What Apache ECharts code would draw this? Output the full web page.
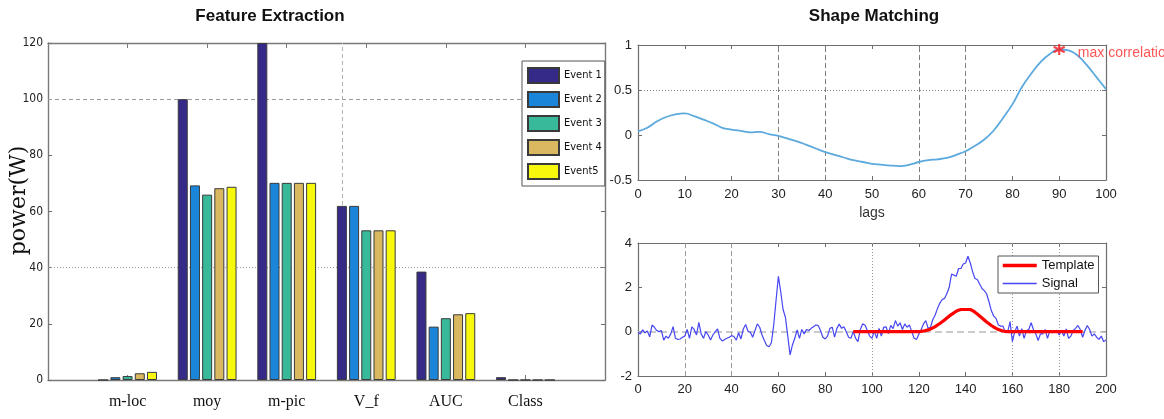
<!DOCTYPE html>
<html>
<head>
<meta charset="utf-8">
<title>Feature Extraction / Shape Matching</title>
<script src="https://cdn.jsdelivr.net/npm/echarts@6/dist/echarts.min.js"></script>
<style>
html, body { margin: 0; padding: 0; background: #fff; }
#main { width: 1164px; height: 419px; }
</style>
</head>
<body>
<div id="main"></div>
<script>
// left chart: feature values per event
var features = ['m-loc', 'moy', 'm-pic', 'V_f', 'AUC', 'Class']
var eventNames = ['Event 1', 'Event 2', 'Event 3', 'Event 4', 'Event5']
var event1 = [0, 100, 120, 62, 38.6, 1]
var event2 = [1, 69.3, 70.2, 62, 19, 0]
var event3 = [1.4, 66, 70.2, 53.3, 22, 0]
var event4 = [2.4, 68.3, 70.2, 53.3, 23.4, 0]
var event5 = [2.9, 68.8, 70.2, 53.3, 23.8, 0]
var eventColors = ['#352a87', '#1b86d9', '#38b99a', '#d9b85f', '#f8f80c']

// top right: cross-correlation vs lag
var corrLags = [0, 2, 4, 6, 8, 10, 12, 14, 16, 18, 20, 22, 24, 26, 28, 30, 32, 34, 36, 38,
  40, 42, 44, 46, 48, 50, 52, 54, 56, 58, 60, 62, 64, 66, 68, 70, 72, 74, 76, 78,
  80, 82, 84, 86, 88, 90, 92, 94, 96, 98, 100]
var corrVals = [0.04, 0.08, 0.15, 0.2, 0.23, 0.24, 0.21, 0.17, 0.13, 0.08, 0.06, 0.045, 0.03, 0.035, 0.01, -0.01, -0.04, -0.07, -0.11, -0.15,
  -0.19, -0.22, -0.25, -0.28, -0.3, -0.32, -0.33, -0.34, -0.345, -0.33, -0.3, -0.28, -0.27, -0.255, -0.22, -0.18, -0.12, -0.05, 0.05, 0.19,
  0.34, 0.53, 0.68, 0.81, 0.9, 0.95, 0.94, 0.88, 0.77, 0.64, 0.51]
var maxLag = 90
var maxCorr = 0.95

// bottom right: signal (lag 0..200) and template
var signalVals = [
  -0.03, -0.1, 0.08, -0.05, 0.03, -0.23, 0.3, 0.2, 0.05, 0.0,
  0.05, -0.38, -0.2, -0.3, -0.1, 0.23, -0.3, -0.35, -0.33, -0.25,
  -0.2, 0.1, -0.3, 0.22, 0.1, -0.15, 0.42, -0.1, -0.3, 0.0,
  -0.15, -0.38, -0.15, 0.0, 0.12, -0.3, -0.42, -0.35, -0.3, -0.25,
  -0.18, -0.22, -0.38, -0.05, -0.33, 0.12, 0.32, 0.02, -0.02, -0.25,
  0.05, 0.35, 0.2, -0.15, -0.4, -0.62, -0.68, -0.5, 0.3, 1.42,
  2.5, 1.8, 1.0, 0.65, -0.2, -1.05, -0.6, -0.3, 0.08, -0.3,
  0.1, -0.1, 0.1, 0.05, 0.15, 0.22, 0.3, 0.28, 0.05, -0.25,
  -0.33, -0.2, 0.15, 0.2, -0.25, 0.15, 0.34, 0.15, 0.22, 0.0,
  -0.25, -0.3, 0.0, -0.3, -0.45, 0.1, 0.35, 0.3, 0.05, -0.2,
  -0.3, 0.05, -0.3, 0.15, -0.2, 0.2, 0.22, -0.09, 0.28, 0.14,
  0.5, 0.25, 0.4, 0.1, 0.35, 0.2, 0.3, 0.0, -0.3, -0.35,
  -0.12, 0.1, 0.35, 0.5, 0.15, 0.2, 0.55, 0.75, 1.05, 1.29,
  1.45, 1.5, 1.72, 2.0, 2.6, 2.55, 2.5, 2.85, 2.85, 3.05,
  3.1, 3.4, 3.1, 2.7, 2.4, 2.35, 2.15, 1.95, 1.85, 1.7,
  1.35, 0.95, 0.7, 0.6, 0.3, 0.25, 0.25, -0.05, 0.0, 0.45,
  -0.45, 0.0, 0.25, -0.2, 0.14, -0.3, 0.05, 0.1, 0.4, 0.1,
  -0.1, -0.4, -0.1, -0.1, 0.1, -0.3, 0.05, -0.05, 0.0, 0.06,
  -0.15, 0.05, -0.2, 0.12, -0.3, -0.2, 0.05, 0.15, 0.28, 0.1,
  -0.25, 0.05, 0.28, 0.1, -0.2, -0.1, -0.25, -0.35, -0.2, -0.45,
  -0.37]
var templateLags = [92, 120, 121, 122, 123, 124, 125, 126, 127, 128, 129, 130, 131, 132, 133, 134, 135, 136, 137, 138,
  142, 143, 144, 145, 146, 147, 148, 149, 150, 151, 152, 153, 154, 155, 156, 157, 158, 190]
var templateVals = [0, 0, 0.01, 0.03, 0.05, 0.08, 0.12, 0.17, 0.23, 0.3, 0.37, 0.45, 0.53, 0.62, 0.7, 0.78, 0.85, 0.92, 0.97, 1.0,
  1.0, 0.95, 0.88, 0.8, 0.71, 0.62, 0.53, 0.44, 0.36, 0.28, 0.21, 0.15, 0.1, 0.06, 0.03, 0.01, 0, 0]

var axisColor = '#6e6e6e'
var tickFont = 'Liberation Sans'
var narrowFont = "'Liberation Sans Narrow', 'DejaVu Sans Condensed', 'Liberation Sans', sans-serif"

// value axis with inside ticks, matlab style box
function valueAxis (grid, pos, min, max, step, showLabel) {
  return {
    type: 'value',
    gridIndex: grid,
    position: pos,
    min: min,
    max: max,
    interval: step,
    axisLine: { show: true, onZero: false, lineStyle: { color: axisColor, width: 1.2 } },
    axisTick: { show: true, inside: true, length: 4, lineStyle: { color: axisColor } },
    axisLabel: { show: showLabel, color: '#222', fontSize: 13, fontFamily: tickFont, margin: 6 },
    splitLine: { show: false }
  }
}

function catAxis (pos, showLabel) {
  return {
    type: 'category',
    gridIndex: 0,
    position: pos,
    data: [''].concat(features, ['']),
    boundaryGap: false,
    axisLine: { show: true, onZero: false, lineStyle: { color: '#7a7a7a', width: 1.4 } },
    axisTick: { show: true, inside: true, length: 5, interval: 0, lineStyle: { color: '#7a7a7a' } },
    axisLabel: { show: showLabel, interval: 0, color: '#111', fontSize: 16, fontFamily: 'Liberation Serif', margin: 14 },
    splitLine: { show: false }
  }
}

var leftY = valueAxis(0, 'left', 0, 120, 20, true)
leftY.axisLine.lineStyle = { color: '#7a7a7a', width: 1.4 }
leftY.axisLabel.fontFamily = narrowFont
leftY.axisLabel.fontSize = 12
leftY.axisLabel.margin = 5
leftY.name = 'power(W)'
leftY.nameLocation = 'middle'
leftY.nameRotate = 90
leftY.nameGap = 18
leftY.nameMoveOverlap = false
leftY.nameTextStyle = { fontFamily: 'DejaVu Serif', fontSize: 22, color: '#111', padding: [0, 0, 0, 22] }
var leftYR = valueAxis(0, 'right', 0, 120, 20, false)
leftYR.axisLine.lineStyle = { color: '#7a7a7a', width: 1.4 }

var topX = valueAxis(1, 'bottom', 0, 100, 10, true)
topX.axisLabel.margin = 8
topX.name = 'lags'
topX.nameLocation = 'middle'
topX.nameGap = 26
topX.nameTextStyle = { fontFamily: tickFont, fontSize: 14, color: '#333' }

var botX = valueAxis(2, 'bottom', 0, 200, 20, true)
botX.axisLabel.margin = 7

var eventValues = [event1, event2, event3, event4, event5]
var barSeries = eventNames.map(function (name, i) {
  var s = {
    name: name,
    type: 'bar',
    xAxisIndex: 0,
    yAxisIndex: 0,
    data: [null].concat(eventValues[i], [null]),
    barWidth: 10,
    barGap: '22%',
    itemStyle: { color: eventColors[i], borderColor: '#3a3a3a', borderWidth: 1 }
  }
  if (i === 0) {
    // partial grid of the original figure
    s.markLine = {
      silent: true, symbol: 'none', z: 1, label: { show: false },
      lineStyle: { color: '#9a9a9a', width: 1 },
      data: [
        { yAxis: 100, lineStyle: { type: [4, 3], color: '#9a9a9a' } },
        { yAxis: 40, lineStyle: { type: [1, 2], color: '#9a9a9a' } },
        { xAxis: 'm-pic', lineStyle: { type: [1, 2], color: '#b0b0b0' } },
        { xAxis: 'V_f', lineStyle: { type: [4, 3], color: '#b0b0b0' } }
      ]
    }
  }
  return s
})

var myChart = echarts.init(document.getElementById('main'), null, { renderer: 'canvas' })
myChart.setOption({
  animation: false,
  backgroundColor: '#fff',
  title: [
    { text: 'Feature Extraction', left: 270, top: 8, textAlign: 'center', padding: 0,
      textStyle: { fontFamily: tickFont, fontWeight: 'bold', fontSize: 17, color: '#111' } },
    { text: 'Shape Matching', left: 874, top: 8, textAlign: 'center', padding: 0,
      textStyle: { fontFamily: tickFont, fontWeight: 'bold', fontSize: 17, color: '#111' } }
  ],
  legend: [
    {
      data: eventNames, orient: 'vertical', left: 522, top: 61, icon: 'rect',
      itemWidth: 31, itemHeight: 15, itemGap: 7, padding: [6, 3, 6, 5],
      borderColor: '#555', borderWidth: 1, backgroundColor: '#fff', selectedMode: false,
      textStyle: { fontFamily: narrowFont, fontSize: 11, color: '#111' }
    },
    {
      data: [
        { name: 'Template', lineStyle: { width: 3.5 }, itemStyle: { opacity: 0 } },
        { name: 'Signal', lineStyle: { width: 1.3 }, itemStyle: { opacity: 0 } }
      ],
      orient: 'vertical', left: 998, top: 256,
      itemWidth: 34, itemHeight: 12, itemGap: 5, padding: [3, 4, 3, 3],
      borderColor: '#555', borderWidth: 1, backgroundColor: '#fff', selectedMode: false,
      textStyle: { fontFamily: tickFont, fontSize: 13, color: '#111' }
    }
  ],
  grid: [
    { left: 48, top: 43, width: 557, height: 337 },
    { left: 638, top: 45, width: 468, height: 135 },
    { left: 638, top: 243, width: 468, height: 133 }
  ],
  xAxis: [
    catAxis('bottom', true),
    catAxis('top', false),
    topX,
    valueAxis(1, 'top', 0, 100, 10, false),
    botX,
    valueAxis(2, 'top', 0, 200, 20, false)
  ],
  yAxis: [
    leftY,
    leftYR,
    valueAxis(1, 'left', -0.5, 1, 0.5, true),
    valueAxis(1, 'right', -0.5, 1, 0.5, false),
    valueAxis(2, 'left', -2, 4, 2, true),
    valueAxis(2, 'right', -2, 4, 2, false)
  ],
  series: barSeries.concat([
    {
      name: 'correlation',
      type: 'line',
      xAxisIndex: 2,
      yAxisIndex: 2,
      data: corrLags.map(function (l, i) { return [l, corrVals[i]] }),
      smooth: 0.4,
      showSymbol: false,
      lineStyle: { color: '#5ba9dd', width: 1.8 },
      markLine: {
        silent: true, symbol: 'none', z: 1, label: { show: false },
        lineStyle: { color: '#808080', width: 1, type: [5, 3] },
        data: [
          { xAxis: 30 }, { xAxis: 40 }, { xAxis: 60 }, { xAxis: 70 },
          { yAxis: 0.5, lineStyle: { type: [1, 2], color: '#808080' } }
        ]
      }
    },
    {
      name: 'max',
      type: 'scatter',
      xAxisIndex: 2,
      yAxisIndex: 2,
      clip: false,
      z: 4,
      data: [[maxLag, maxCorr]],
      symbol: 'path://M5,0L5,10M0.7,2.5L9.3,7.5M0.7,7.5L9.3,2.5',
      symbolSize: 11,
      itemStyle: { color: 'rgba(0,0,0,0)', borderColor: '#ff1a1a', borderWidth: 2.2 },
      label: {
        show: true, position: 'right', distance: 12, offset: [0, 4],
        formatter: 'max correlation', color: '#ff2a2a', fontSize: 14, fontFamily: tickFont
      }
    },
    {
      name: 'Signal',
      type: 'line',
      xAxisIndex: 4,
      yAxisIndex: 4,
      data: signalVals.map(function (v, i) { return [i, v] }),
      showSymbol: false,
      lineStyle: { color: '#4646f2', width: 1.2 },
      itemStyle: { color: '#4646f2' },
      markLine: {
        silent: true, symbol: 'none', z: 1, label: { show: false },
        lineStyle: { color: '#999', width: 1, type: [5, 3] },
        data: [
          { xAxis: 20 }, { xAxis: 40 },
          { xAxis: 100, lineStyle: { type: [1, 2], color: '#999' } },
          { xAxis: 160, lineStyle: { type: [1, 2], color: '#999' } },
          { xAxis: 180, lineStyle: { type: [1, 2], color: '#999' } },
          { yAxis: 0, lineStyle: { type: [7, 4], color: '#bbb', width: 1.6 } }
        ]
      }
    },
    {
      name: 'Template',
      type: 'line',
      xAxisIndex: 4,
      yAxisIndex: 4,
      z: 3,
      data: templateLags.map(function (l, i) { return [l, templateVals[i]] }),
      showSymbol: false,
      lineStyle: { color: '#ff0000', width: 3.2 },
      itemStyle: { color: '#ff0000' }
    }
  ])
})
</script>
</body>
</html>
